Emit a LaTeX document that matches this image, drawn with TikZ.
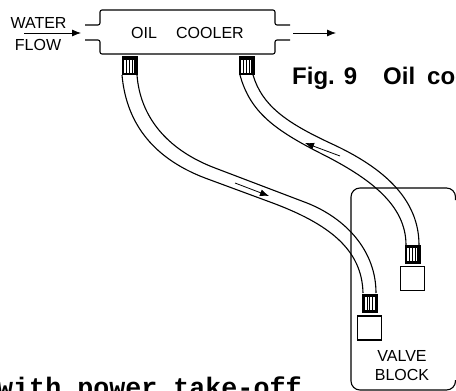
\documentclass[tikz,border=0pt]{standalone}
\usepackage{fontspec}
\setmainfont{Liberation Sans}
\newfontfamily\typefont{Liberation Mono}
\usetikzlibrary{arrows.meta}
\tikzset{
  x=1pt,y=-1pt,
  ln/.style={line width=1.1pt,black},
  flow/.style={line width=0.8pt,-{Latex[length=9pt,width=7pt]}},
  lab/.style={font=\fontsize{16}{19}\selectfont,align=center,inner sep=0pt},
  fitbox/.style={draw,line width=1pt,fill=black,minimum width=15pt,minimum height=18pt,inner sep=0pt},
  stub/.style={draw,line width=1.1pt,minimum width=24pt,minimum height=24pt,inner sep=0pt},
}
\newcommand{\ribs}[4]{\foreach \q in {0.16,0.38,0.6,0.82}{\draw[white,line width=1.5pt] ({#1+(#3-#1)*\q},#2) -- ({#1+(#3-#1)*\q},#4);}}
\begin{document}
\begin{tikzpicture}
\useasboundingbox (0,0) rectangle (456,391);
\clip (0,0) rectangle (456,391);
% cooler body
\node[minimum width=175pt,minimum height=44pt,lab] (cooler) at (187.5,33) {OIL\hspace{1.2em}COOLER};
\draw[ln,rounded corners=2pt] (85,25) -- (100,25) -- (100,10) -- (275,10) -- (275,25) -- (290,25);
\draw[ln,rounded corners=2pt] (85,40) -- (100,40) -- (100,54) -- (275,54) -- (275,40) -- (290,40);
% labels and flow
\node[lab] (wtop) at (38.5,23) {WATER};
\node[lab] (wbot) at (38,45) {FLOW};
\coordinate (inA) at (24,33); \coordinate (inB) at (81,33);
\coordinate (outA) at (293,33); \coordinate (outB) at (336,33);
\draw[flow] (inA) -- (inB);
\draw[flow] (outA) -- (outB);
% valve block
\draw[ln,rounded corners=9pt] (455.5,200) -- (455.5,188) -- (351,188) -- (351,390) -- (455.5,390) -- (455.5,380);
\node[lab] (valve) at (402,366) {VALVE\\BLOCK};
% hoses
\draw[ln] (122,75) .. controls (126,120) and (150,157) .. (205,178) -- (270,202) .. controls (330,224) and (362,250) .. (363,293);
\draw[ln] (137,75) .. controls (140,115) and (165,149) .. (215,168) -- (307,203) .. controls (345,218) and (376,250) .. (376,293);
\draw[ln] (240,75) .. controls (250,112) and (275,130) .. (320,153) .. controls (370,178) and (406,205) .. (406,245);
\draw[ln] (253,75) .. controls (262,105) and (285,122) .. (330,143) .. controls (385,168) and (419,200) .. (419,245);
% fittings
\node[fitbox] (f1) at (129.5,65) {}; \ribs{123}{60}{136}{73}
\node[fitbox] (f2) at (246.5,65) {}; \ribs{240}{60}{253}{73}
\node[fitbox] (f3) at (412.5,254) {}; \ribs{406}{248}{419}{261}
\node[fitbox] (f4) at (370,303) {}; \ribs{364}{297}{376}{310}
\node[stub] (s3) at (412.5,278.5) {};
\node[stub] (s4) at (369.5,328) {};
% hose flow arrows
\coordinate (h1a) at (235,183); \coordinate (h1b) at (269,196);
\coordinate (h2a) at (340,156); \coordinate (h2b) at (305,143);
\draw[flow] (h1a) -- (h1b);
\draw[flow] (h2a) -- (h2b);
% captions
\node[anchor=base west,inner sep=0pt,font=\fontsize{24}{26}\selectfont\bfseries] (fig) at (292,84) {Fig.\hspace{9pt}9\hspace{26pt}Oil\hspace{12pt}cooler};
\node[anchor=base west,inner sep=0pt,font=\fontsize{26.7}{28}\typefont\bfseries] (cap) at (-3,396) {with power take-off};
\end{tikzpicture}
\end{document}
